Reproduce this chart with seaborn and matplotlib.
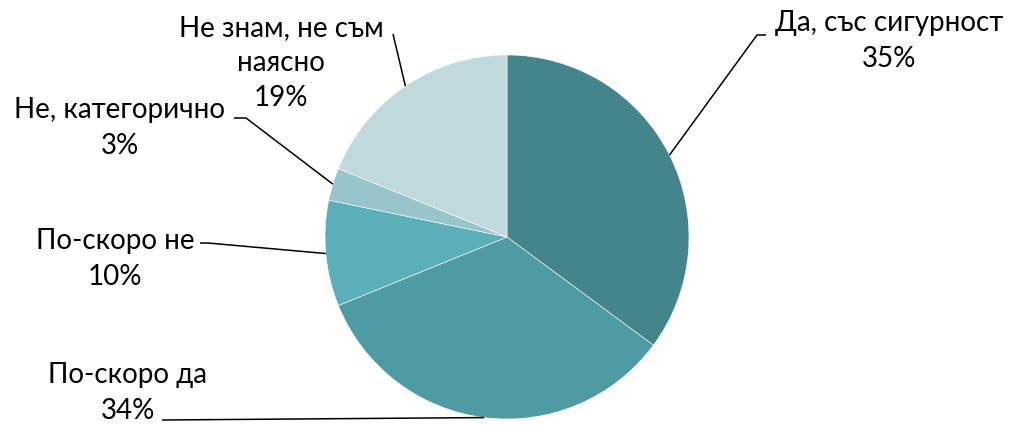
import numpy as np
import matplotlib
matplotlib.use("Agg")
import matplotlib.pyplot as plt
import seaborn as sns

# данни
categories = ["Да, със сигурност", "По-скоро да", "По-скоро не", "Не, категорично", "Не знам, не съм\nнаясно"]
shares = [35.2, 33.8, 9.4, 2.9, 18.9]
pct_labels = ["35%", "34%", "10%", "3%", "19%"]
colors = ["#43858A", "#4F9BA3", "#5AAFB9", "#98C5CB", "#BFD9DD"]

sns.set_theme(style="white")
plt.rcParams["font.family"] = ["Lato", "DejaVu Sans"]

W, H = 1012, 425
fig = plt.figure(figsize=(W / 100, H / 100), dpi=100)
ax = fig.add_axes([0, 0, 1, 1])

cx, cy, r = 507, H - 237, 182
wedges, _ = ax.pie(shares, colors=colors, startangle=90, counterclock=False,
                   center=(cx, cy), radius=r, frame=True,
                   wedgeprops=dict(edgecolor="white", linewidth=0.4))
ax.set_xlim(0, W)
ax.set_ylim(0, H)
ax.set_aspect("equal")
ax.axis("off")

# разположение на етикетите (пиксели от горния ляв ъгъл)
# (точка на пречупване, край на хоризонталата, център на текста)
layout = [
    ((757, 35), (766, 35), (889, 41)),
    ((162, 420), (162, 420), (128, 393)),
    ((208, 243), (200, 243), (115, 259)),
    ((246, 118), (234, 118), (120, 128)),
    ((393, 34), (393, 34), (281, 63)),
]

fs = 20
for w, cat, pct, (elbow, end, txt) in zip(wedges, categories, pct_labels, layout):
    mid = np.deg2rad((w.theta1 + w.theta2) / 2)
    ax0 = cx + r * np.cos(mid)
    ay0 = cy + r * np.sin(mid)
    ax.plot([ax0, elbow[0], end[0]], [ay0, H - elbow[1], H - end[1]],
            color="black", lw=1.1, solid_capstyle="butt")
    ax.text(txt[0], H - txt[1], cat + "\n" + pct, ha="center", va="center",
            fontsize=fs, color="black", linespacing=1.45)

fig.savefig("out.png", dpi=100)
